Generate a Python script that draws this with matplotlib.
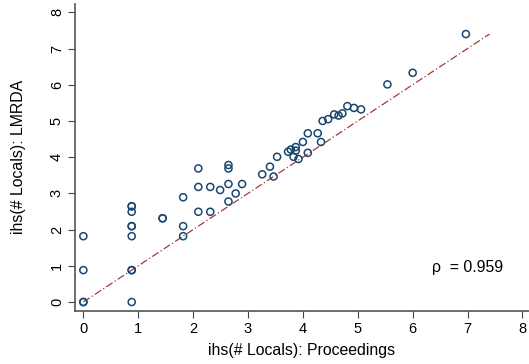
import matplotlib
matplotlib.use("Agg")
import matplotlib.pyplot as plt
import numpy as np

# ihs(# Locals) from the two sources, one entry per point.
proceedings = [0, 0, 0, 0,
               0.881, 0.881, 0.881, 0.881, 0.881, 0.881, 0.881, 0.881, 0.881,
               1.444, 1.444,
               1.818, 1.818, 1.818,
               2.095, 2.095, 2.095,
               2.312, 2.312, 2.492,
               2.644, 2.644, 2.644, 2.644, 2.776, 2.893,
               3.259, 3.40, 3.466, 3.53, 3.73, 3.78, 3.83, 3.87, 3.87, 3.92,
               4.0, 4.09, 4.09, 4.27, 4.33, 4.36, 4.46, 4.57, 4.65, 4.72,
               4.81, 4.93, 5.06, 5.54, 6.0, 6.97]
lmrda = [0, 0, 0.881, 1.818,
         0, 0.881, 0.881, 1.818, 2.095, 2.095, 2.492, 2.644, 2.644,
         2.312, 2.312,
         1.818, 2.095, 2.893,
         2.492, 3.178, 3.689,
         2.492, 3.178, 3.093,
         2.776, 3.259, 3.689, 3.784, 2.998, 3.259,
         3.527, 3.738, 3.466, 4.01, 4.15, 4.21, 4.01, 4.28, 4.18, 3.95,
         4.42, 4.66, 4.12, 4.66, 4.42, 5.0, 5.05, 5.18, 5.15, 5.21,
         5.41, 5.36, 5.32, 6.01, 6.33, 7.40]
rho = 0.959
ticks = [0, 1, 2, 3, 4, 5, 6, 7, 8]

plt.rcParams['font.family'] = ['Liberation Sans', 'DejaVu Sans']

fig = plt.figure(figsize=(5.29, 3.64), dpi=100)
ax = fig.add_axes([0.1418, 0.1464, 0.8582, 0.8426])

# 45 degree reference line
top = max(max(proceedings), max(lmrda))
ax.plot([0, top], [0, top], color='#a33a3a', linestyle=(0, (6, 2, 1, 2)),
        linewidth=0.9, zorder=1)

ax.scatter(proceedings, lmrda, s=26, facecolors='none', edgecolors='#1a476f',
           linewidths=1.1, zorder=2)

ax.text(6.35, 0.96, "\u03c1  = " + str(rho), fontsize=11.4, va='center', ha='left')

ax.set_xlim(-0.152, 8.12)
ax.set_ylim(-0.24, 8.23)
ax.set_xticks(ticks)
ax.set_yticks(ticks)
ax.tick_params(axis='both', direction='out', length=5, width=0.8,
               color='#444444', labelsize=10.5, pad=3)
for lab in ax.get_yticklabels():
    lab.set_rotation(90)
    lab.set_va('center')

for side in ['top', 'right']:
    ax.spines[side].set_visible(False)
for side in ['left', 'bottom']:
    ax.spines[side].set_color('#555555')
    ax.spines[side].set_linewidth(1.2)

ax.set_xlabel("ihs(# Locals): Proceedings", fontsize=11.4, labelpad=5)
ax.set_ylabel("ihs(# Locals): LMRDA", fontsize=11.4, labelpad=17)

fig.savefig("out.png", dpi=100)
